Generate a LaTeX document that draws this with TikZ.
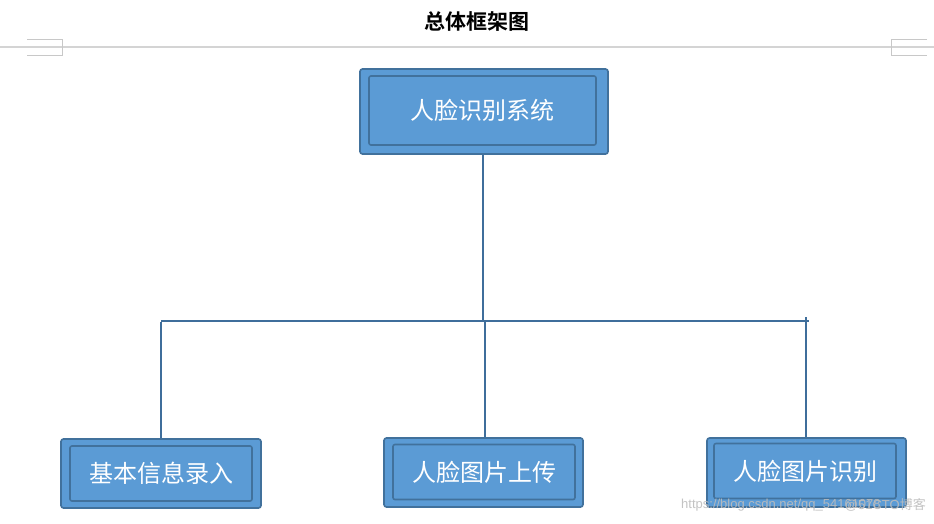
\documentclass[tikz,border=0pt]{standalone}
\usepackage{fontspec}
\newfontfamily\cjk{Noto Sans CJK SC}[BoldFont={Noto Sans CJK SC Bold}]
\setsansfont{Liberation Sans}
\definecolor{boxfill}{HTML}{5B9BD5}
\definecolor{boxline}{HTML}{41719C}
\definecolor{conn}{HTML}{3F6E9B}
\definecolor{rulegray}{HTML}{D4D4D4}
\definecolor{cornergray}{HTML}{C8C8C8}
\definecolor{wmgray}{HTML}{BDBDBD}
\tikzset{
  outerbox/.style={draw=boxline, fill=boxfill, line width=1.6pt, rounded corners=2.5pt, inner sep=0pt},
  innerbox/.style={draw=boxline, line width=1.6pt, rounded corners=2pt, inner sep=0pt,
    text=white, font=\cjk\fontsize{24}{28}\selectfont},
  connector/.style={draw=conn, line width=1.6pt},
  wmtext/.style={text=wmgray, font=\sffamily\fontsize{13}{15}\selectfont, inner sep=0pt, opacity=0.9}
}
\begin{document}
\begin{tikzpicture}[x=1pt,y=-1pt]
\useasboundingbox (0,0) rectangle (934,523);
\fill[white] (0,0) rectangle (934,523);
% header
\node[font=\cjk\bfseries\fontsize{21}{25}\selectfont, inner sep=0pt] (title) at (477,22) {总体框架图};
\draw[draw=rulegray, line width=2pt] (0,46.5) -- (934,46.5);
\draw[draw=cornergray, line width=0.8pt] (27,39) -- (62,39) -- (62,55) -- (27,55);
\draw[draw=cornergray, line width=0.8pt] (927,39) -- (891,39) -- (891,55) -- (927,55);
% top box
\node[outerbox, minimum width=248pt, minimum height=85pt] (topo) at (484,111.5) {};
\node[innerbox, minimum width=227pt, minimum height=69pt] (top) at (482.5,110.5) {人脸识别系统};
% bottom boxes
\node[outerbox, minimum width=200pt, minimum height=69pt] (b1o) at (161,473.5) {};
\node[innerbox, minimum width=182pt, minimum height=55pt] (b1) at (161,473.5) {基本信息录入};
\node[outerbox, minimum width=199pt, minimum height=69pt] (b2o) at (483.5,472.5) {};
\node[innerbox, minimum width=182pt, minimum height=55pt] (b2) at (484,472) {人脸图片上传};
\node[outerbox, minimum width=199pt, minimum height=69pt] (b3o) at (806.5,472.5) {};
\node[innerbox, minimum width=182pt, minimum height=55pt] (b3) at (805,471) {人脸图片识别};
% connectors
\coordinate (jc) at (483,322);
\coordinate (jl) at (161,321);
\coordinate (jr) at (809,321);
\coordinate (jm) at (485,322);
\coordinate (jrr) at (806,317);
\draw[connector] (jc |- topo.south) -- (jc);
\draw[connector] (jl) -- (jr);
\draw[connector] ([yshift=-1pt]jl) -- (b1o.north);
\draw[connector] (jm) -- (b2o.north -| jm);
\draw[connector] (jrr) -- (b3o.north -| jrr);
% watermark
\node[wmtext, anchor=west] (wm1) at (681,505) {https://blog.csdn.net/qq\_54161078};
\node[wmtext, anchor=east] (wm2) at (926,505) {@51CTO{\cjk 博客}};
\end{tikzpicture}
\end{document}
